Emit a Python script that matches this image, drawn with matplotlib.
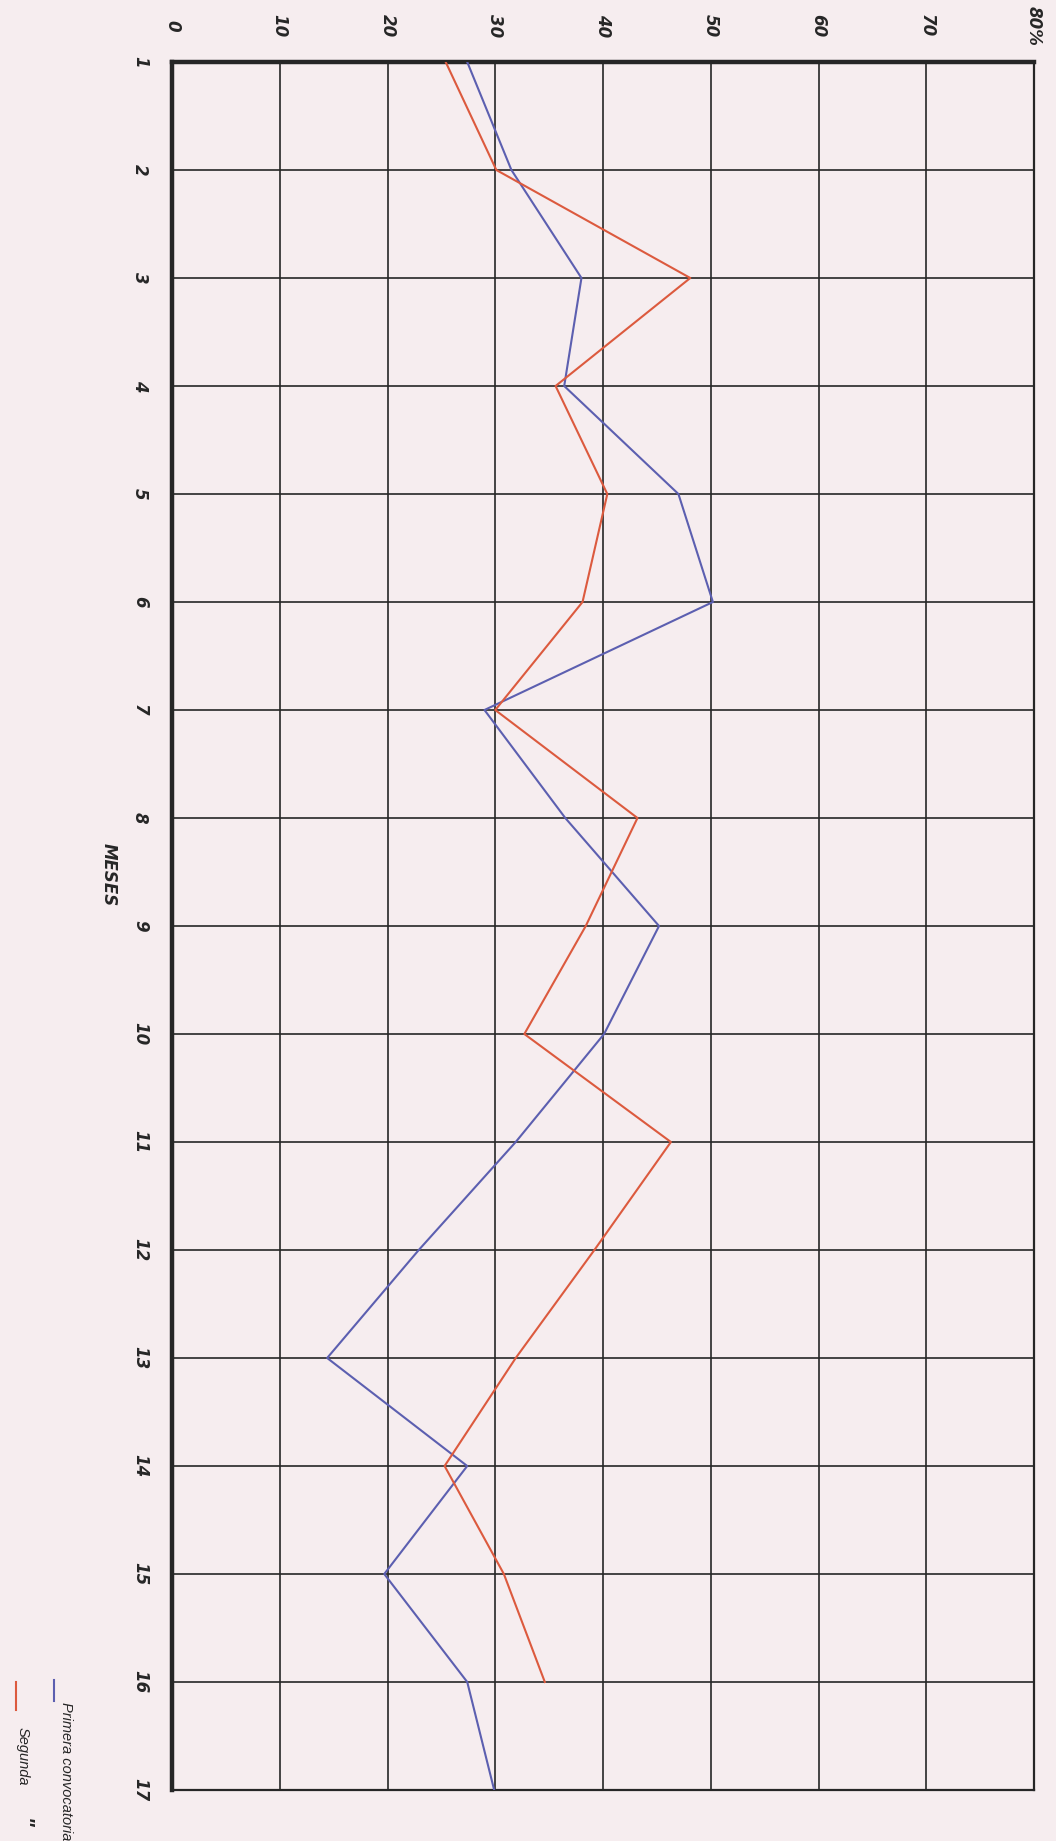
#!/usr/bin/env python3
"""Monthly percentage, primera vs segunda convocatoria (chart drawn rotated 90 deg)."""
import matplotlib
matplotlib.use("Agg")
import matplotlib.pyplot as plt
from matplotlib.lines import Line2D

# ---------------------------------------------------------------------------
# data
months = list(range(1, 18))
primera = [27.4, 31.5, 38.0, 36.4, 47.0, 50.2, 29.0, 36.5, 45.2,
           40.1, 31.9, 22.9, 14.4, 27.4, 19.7, 27.4, 29.9]
segunda_months = list(range(1, 17))
segunda = [25.4, 30.1, 48.1, 35.6, 40.4, 38.1, 30.0, 43.2, 38.4,
           32.7, 46.3, 39.2, 31.9, 25.3, 30.8, 34.6]
value_ticks = [0, 10, 20, 30, 40, 50, 60, 70, 80]
value_labels = ["0", "10", "20", "30", "40", "50", "60", "70", "80%"]

PAPER, INK = "#f6edef", "#262626"
RED, BLUE = "#dc5a3e", "#5c5fb0"
W, H = 1056, 1841

fig = plt.figure(figsize=(W / 100, H / 100), dpi=100, facecolor=PAPER)
# plot box: x 172..1034 px, y 62..1790 px
ax = fig.add_axes([172 / W, 1 - 1790 / H, (1034 - 172) / W, (1790 - 62) / H])
ax.set_facecolor(PAPER)

ax.plot(primera, months, color=BLUE, linewidth=1.5, zorder=3)
ax.plot(segunda, segunda_months, color=RED, linewidth=1.5, zorder=3)

ax.set_xlim(0, 80)
ax.set_ylim(17, 1)
ax.grid(True, color=INK, linewidth=1.2, zorder=1)
ax.set_axisbelow(True)

ax.xaxis.tick_top()
ax.set_xticks(value_ticks)
ax.set_xticklabels(value_labels, rotation=-90, va="center", ha="center",
                   fontsize=12, fontstyle="italic", fontweight="bold", color=INK)
ax.set_yticks(months)
ax.set_yticklabels([str(m) for m in months], rotation=-90, va="center", ha="center",
                   fontsize=12, fontstyle="italic", fontweight="bold", color=INK)
ax.tick_params(axis="x", length=0, pad=26)
ax.tick_params(axis="y", length=0, pad=23)

ax.set_ylabel("MESES", rotation=-90, fontsize=12, fontstyle="italic",
              fontweight="bold", color=INK)
ax.yaxis.set_label_coords(-0.0835, 0.53)

for s in ("top", "left"):
    ax.spines[s].set_linewidth(3.2)
for s in ("right", "bottom"):
    ax.spines[s].set_linewidth(1.6)
for s in ax.spines.values():
    s.set_color(INK)

# hand-drawn style legend, bottom left, rotated like the rest
def fx(px):
    return px / W

def fy(py):
    return 1 - py / H

fig.add_artist(Line2D([fx(54), fx(54)], [fy(1680), fy(1701)], color=BLUE, linewidth=1.5))
fig.add_artist(Line2D([fx(16), fx(16)], [fy(1682), fy(1710)], color=RED, linewidth=1.5))
txt = dict(rotation=-90, rotation_mode="anchor", ha="left", va="center",
           fontsize=10.5, fontstyle="italic", color=INK, family="Liberation Sans")
fig.text(fx(66), fy(1702), "Primera convocatoria", **txt)
fig.text(fx(23), fy(1727), "Segunda", **txt)
fig.text(fx(23), fy(1818), "\"", **{**txt, "fontsize": 15, "fontweight": "bold"})

fig.savefig("out.png", dpi=100, facecolor=PAPER)
